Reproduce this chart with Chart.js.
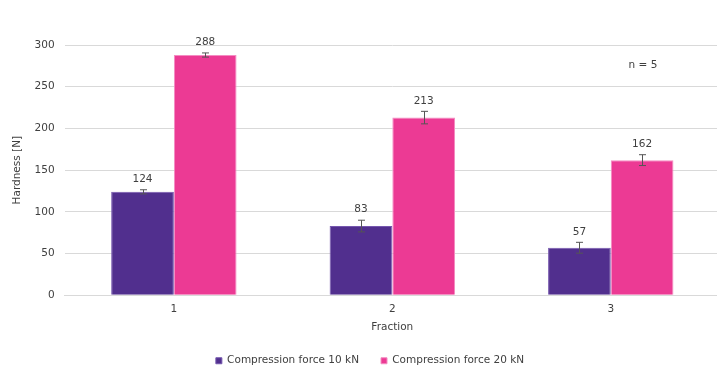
<!DOCTYPE html>
<html>
<head>
<meta charset="utf-8">
<script src="https://cdn.jsdelivr.net/npm/chart.js@4/dist/chart.umd.min.js"></script>
<style>
  html, body { margin: 0; padding: 0; background: #fff; overflow: hidden; }
  #wrap { position: relative; width: 720px; height: 377px; }
</style>
</head>
<body>
<div id="wrap"><canvas id="c"></canvas></div>
<script>
const categories = ['1', '2', '3'];
const seriesNames = ['Compression force 10 kN', 'Compression force 20 kN'];
const force10 = [124, 83, 57];
const force20 = [288, 213, 162];
const err10 = [2.5, 7, 6.5];
const err20 = [2.5, 7.5, 6.5];
const yTicks = [0, 50, 100, 150, 200, 250, 300];
const noteText = 'n = 5';

const FONT = '"DejaVu Sans", Verdana, sans-serif';
const FS = 10.5;
const TEXT = '#404040';

const errorBarPlugin = {
  id: 'errorBars',
  afterLayout(chart) {
    if (chart.legend) { chart.legend.left += 10; chart.legend.right += 10; }
  },
  afterDatasetsDraw(chart) {
    const ctx = chart.ctx;
    const y = chart.scales.y;
    const errs = [err10, err20];
    ctx.save();
    chart.data.datasets.forEach((ds, di) => {
      const meta = chart.getDatasetMeta(di);
      meta.data.forEach((bar, i) => {
        const v = ds.data[i];
        const e = errs[di][i];
        const yt = y.getPixelForValue(v + e);
        const yb = y.getPixelForValue(v - e);
        const x = Math.round(bar.x) + 0.5;
        ctx.strokeStyle = '#555555';
        ctx.lineWidth = 1;
        ctx.beginPath();
        ctx.moveTo(x, yt); ctx.lineTo(x, yb);
        ctx.moveTo(x - 3.5, yt); ctx.lineTo(x + 3.5, yt);
        ctx.moveTo(x - 3.5, yb); ctx.lineTo(x + 3.5, yb);
        ctx.stroke();
        ctx.fillStyle = TEXT;
        ctx.font = FS + 'px ' + FONT;
        ctx.textAlign = 'center';
        ctx.textBaseline = 'middle';
        ctx.fillText(String(v), bar.x, yt - 10.5);
      });
    });
    const ca = chart.chartArea;
    ctx.fillStyle = TEXT;
    ctx.font = FS + 'px ' + FONT;
    ctx.textAlign = 'center';
    ctx.textBaseline = 'middle';
    ctx.fillText(noteText, ca.right - 77, ca.top + 20);
    ctx.restore();
  }
};

new Chart(document.getElementById('c'), {
  type: 'bar',
  data: {
    labels: categories,
    datasets: [
      { label: seriesNames[0], data: force10, backgroundColor: '#512F8E', borderColor: '#7557AE', borderWidth: 1 },
      { label: seriesNames[1], data: force20, backgroundColor: '#EC3A94', borderColor: '#F48CC2', borderWidth: 1 }
    ]
  },
  options: {
    responsive: true,
    maintainAspectRatio: false,
    animation: false,
    categoryPercentage: 0.574,
    barPercentage: 1.0,
    layout: { padding: { top: 45, right: 0, left: 0, bottom: 1 } },
    plugins: {
      legend: {
        position: 'bottom',
        labels: {
          boxWidth: 6, boxHeight: 6, padding: 22,
          color: TEXT, font: { family: FONT, size: FS }
        }
      },
      tooltip: { enabled: false }
    },
    scales: {
      x: {
        grid: { display: false, drawTicks: false },
        border: { display: true, color: '#d9d9d9', width: 1 },
        ticks: { color: TEXT, font: { family: FONT, size: FS }, padding: 8 },
        title: { display: true, text: 'Fraction', color: TEXT, font: { family: FONT, size: FS }, padding: { top: -3, bottom: 0 } }
      },
      y: {
        min: 0, max: 300,
        afterBuildTicks(scale) { scale.ticks = yTicks.map(v => ({ value: v })); },
        grid: { color: '#d9d9d9', lineWidth: 1, drawTicks: false },
        border: { display: false },
        ticks: { color: TEXT, font: { family: FONT, size: FS }, padding: 10 },
        title: { display: true, text: 'Hardness [N]', color: TEXT, font: { family: FONT, size: FS }, padding: { top: 10.5, bottom: 1.5 } }
      }
    }
  },
  plugins: [errorBarPlugin]
});
</script>
</body>
</html>
